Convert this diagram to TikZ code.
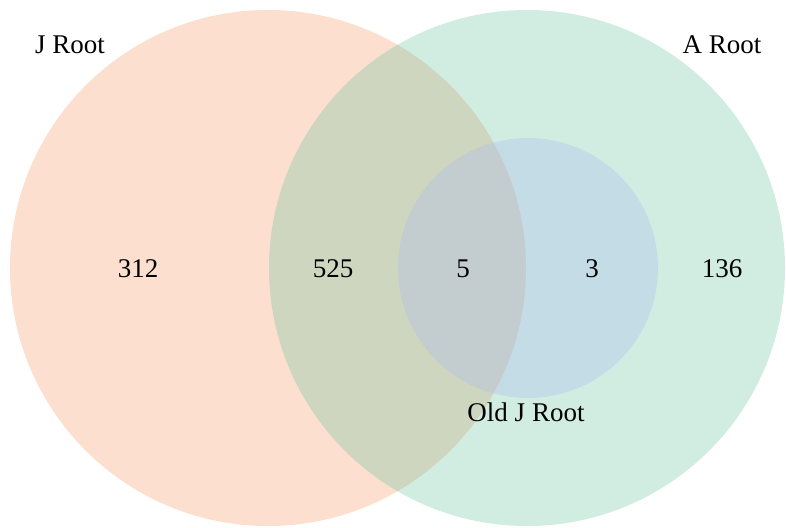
\documentclass[tikz,border=0pt]{standalone}
\usepackage{fontspec}
\setmainfont{Liberation Serif}
\definecolor{jroot}{RGB}{245,148,95}
\definecolor{aroot}{RGB}{102,195,155}
\definecolor{oldj}{RGB}{170,180,240}

\begin{document}
\begin{tikzpicture}[x=1pt, y=-1pt,
		set/.style={fill opacity=0.3},
		count/.style={anchor=base, inner sep=0pt, font=\fontsize{27}{32}\selectfont}]
		\useasboundingbox (0,0) rectangle (786,527);
		% the three sets
		\fill [set, fill=jroot] (268,268) circle (258);
		\fill [set, fill=aroot] (527,268) circle (258);
		\fill [set, fill=oldj] (528,268) circle (130);
		% set names
		\node [count] (jname) at (70,54) {J Root};
		\node [count] (aname) at (722,54) {A Root};
		\node [count] (oldname) at (526,421) {Old J Root};
		% region counts
		\node [count] (jonly) at (138,277) {312};
		\node [count] (ja) at (333,277) {525};
		\node [count] (jaold) at (463,277) {5};
		\node [count] (aold) at (592,277) {3};
		\node [count] (aonly) at (722,277) {136};
	\end{tikzpicture}
\end{document}
